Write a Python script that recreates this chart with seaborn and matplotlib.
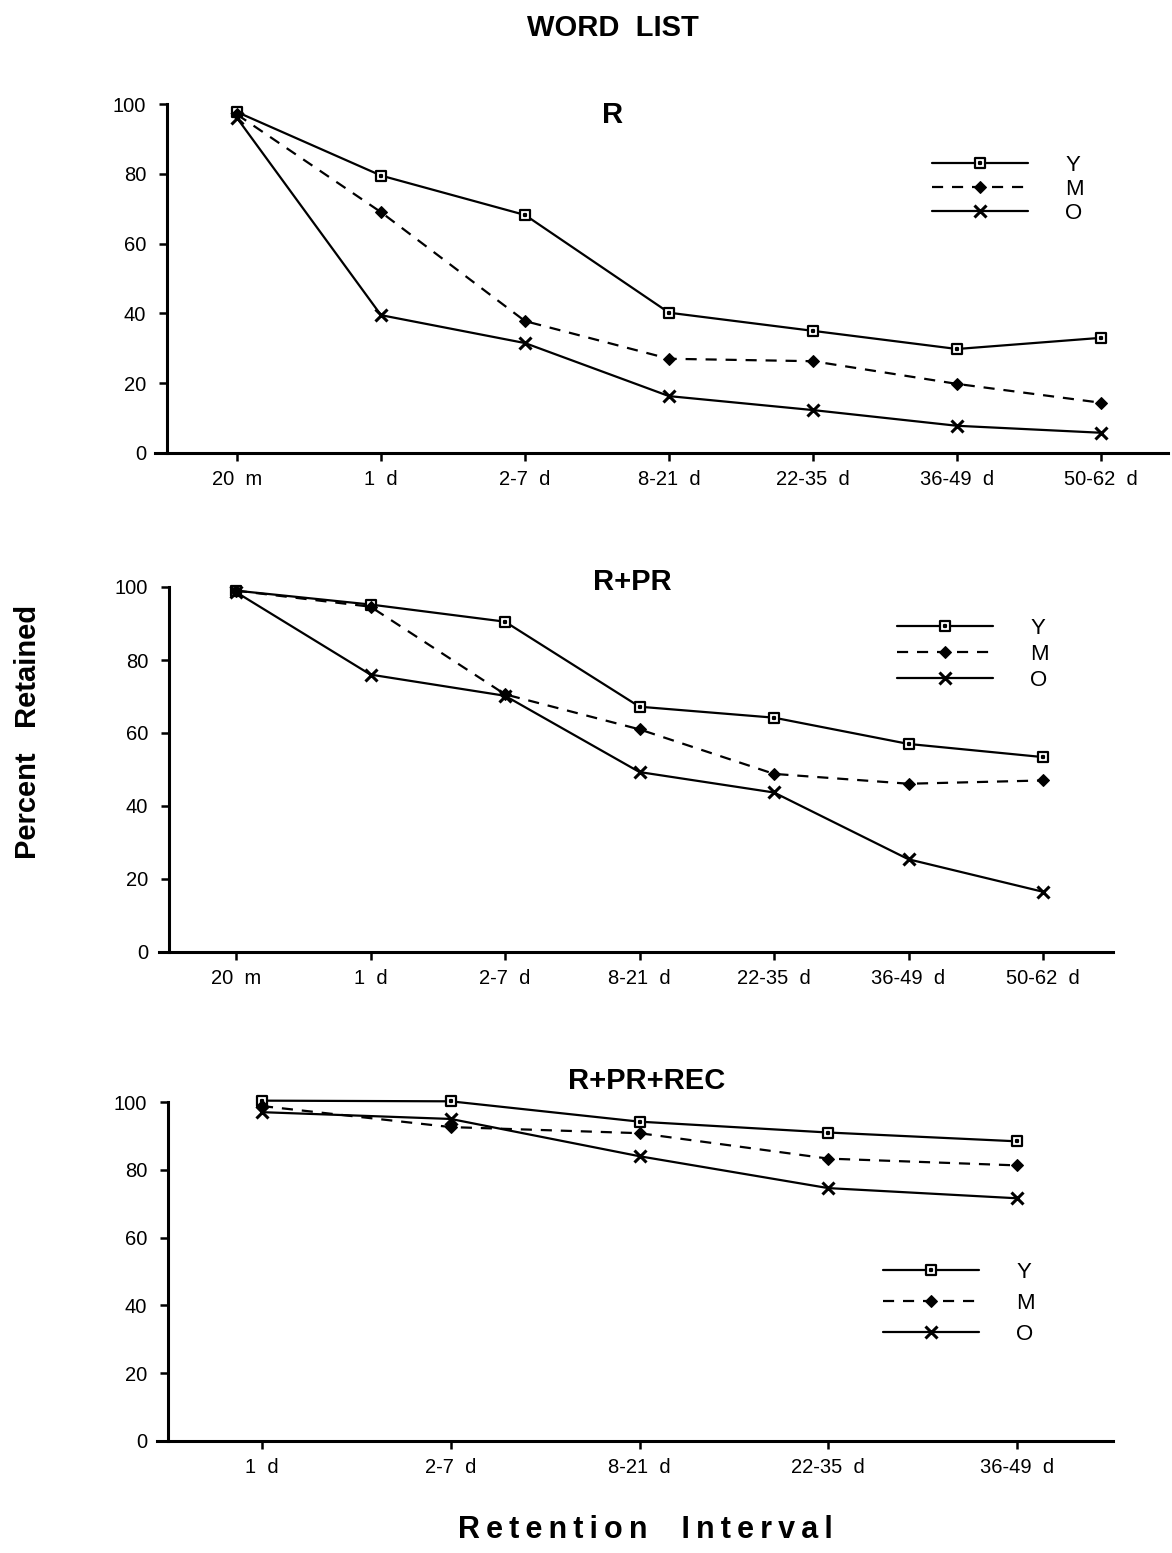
import numpy as np
import pandas as pd
import seaborn as sns
import matplotlib.pyplot as plt
from matplotlib.path import Path

sns.set_theme(style="ticks")
plt.rcParams['font.family'] = ['Liberation Sans', 'DejaVu Sans']
plt.rcParams['text.color'] = 'black'
plt.rcParams['xtick.color'] = 'black'
plt.rcParams['ytick.color'] = 'black'

# 数据
groups = ['Y', 'M', 'O']

labels_a = ['20  m', '1  d', '2-7  d', '8-21  d', '22-35  d', '36-49  d', '50-62  d']
labels_c = ['1  d', '2-7  d', '8-21  d', '22-35  d', '36-49  d']

r_y = [97.7, 79.5, 68.2, 40.2, 35.0, 29.8, 33.0]
r_m = [97.0, 69.0, 37.8, 27.0, 26.3, 19.8, 14.4]
r_o = [96.0, 39.5, 31.5, 16.3, 12.3, 7.8, 5.8]

rpr_y = [99.0, 95.2, 90.5, 67.2, 64.2, 57.0, 53.4]
rpr_m = [99.0, 94.6, 70.6, 61.0, 48.8, 46.1, 47.0]
rpr_o = [98.6, 76.0, 70.2, 49.3, 43.7, 25.4, 16.5]

rec_y = [100.4, 100.2, 94.2, 91.0, 88.4]
rec_m = [98.8, 92.6, 90.8, 83.3, 81.3]
rec_o = [97.0, 95.0, 84.0, 74.6, 71.6]

# 带点的方框标记
box_dot = Path([(-1, -1), (1, -1), (1, 1), (-1, 1), (-1, -1),
                (-0.12, -0.12), (0.12, -0.12), (0.12, 0.12), (-0.12, 0.12), (-0.12, -0.12)],
               [Path.MOVETO, Path.LINETO, Path.LINETO, Path.LINETO, Path.CLOSEPOLY,
                Path.MOVETO, Path.LINETO, Path.LINETO, Path.LINETO, Path.CLOSEPOLY])

styles = {
    'Y': dict(marker=box_dot, linestyle='-', markersize=7.5, markerfacecolor='white',
              markeredgecolor='black', markeredgewidth=1.6),
    'M': dict(marker='D', linestyle=(0, (5, 4)), markersize=6.5, markerfacecolor='black',
              markeredgecolor='black'),
    'O': dict(marker='x', linestyle='-', markersize=9, markeredgewidth=2.2,
              markeredgecolor='black'),
}

W, H = 1172, 1553
fig = plt.figure(figsize=(W / 100, H / 100), dpi=100)


def spaced(s):
    # 字母间加细空格
    return '\u2009'.join(s)


def add_panel(left, right, top, bottom, labels, series, first_tick, spacing, spine_px,
              title, title_x, title_y, leg_x, leg_y, leg_space):
    ax = fig.add_axes([left / W, 1 - bottom / H, (right - left) / W, (bottom - top) / H])
    x = np.arange(len(labels))
    df = pd.DataFrame({'x': np.tile(x, 3),
                       'val': np.concatenate(series),
                       'grp': np.repeat(groups, len(labels))})
    handles = []
    for g in groups:
        d = df[df.grp == g]
        sns.lineplot(data=d, x='x', y='val', ax=ax, color='black', linewidth=1.6,
                     clip_on=False, **styles[g])
        handles.append(ax.lines[-1])
    ax.set_xlim((left - first_tick) / spacing, (right - first_tick) / spacing)
    ax.set_ylim(0, 100)
    ax.spines['left'].set_position(('data', (spine_px - first_tick) / spacing))
    ax.spines['right'].set_visible(False)
    ax.spines['top'].set_visible(False)
    for s in ['left', 'bottom']:
        ax.spines[s].set_linewidth(2.2)
        ax.spines[s].set_color('black')
    ax.set_xticks(x)
    ax.set_xticklabels(labels)
    ax.set_yticks([0, 20, 40, 60, 80, 100])
    ax.tick_params(axis='both', direction='out', length=6, width=1.8, color='black',
                   labelsize=14.5, labelcolor='black')
    ax.tick_params(axis='y', pad=9)
    ax.tick_params(axis='x', pad=6)
    ax.set_xlabel('')
    ax.set_ylabel('')
    ax.set_facecolor('white')
    fig.text(title_x / W, 1 - title_y / H, title, ha='center', va='center',
             fontsize=21, fontweight='bold', color='black')
    ax.legend(handles, groups, loc='upper left', frameon=False,
              bbox_to_anchor=(leg_x / W, 1 - leg_y / H), bbox_transform=fig.transFigure,
              handlelength=4.3, handletextpad=1.7, labelspacing=leg_space,
              borderpad=0, borderaxespad=0, fontsize=16, labelcolor='black')
    return ax


add_panel(155, 1168, 104, 453, labels_a, [r_y, r_m, r_o], 237, 144, 167,
          'R', 613, 115, 932, 155, 0.14)
add_panel(159, 1113, 587, 952, labels_a, [rpr_y, rpr_m, rpr_o], 236, 134.5, 169,
          'R+PR', 632, 582, 897, 618, 0.22)
add_panel(157, 1113, 1102, 1441, labels_c, [rec_y, rec_m, rec_o], 262, 188.75, 168,
          'R+PR+REC', 647, 1081, 883, 1262, 0.45)

fig.text(613 / W, 1 - 28 / H, 'WORD  LIST', ha='center', va='center',
         fontsize=21, fontweight='bold', color='black')
fig.text(28 / W, 1 - 732 / H, 'Percent   Retained',
         ha='center', va='center', rotation=90, fontsize=21, fontweight='bold',
         color='black')
fig.text(645 / W, 1 - 1530 / H, spaced('Retention') + '    ' + spaced('Interval'),
         ha='center', va='center', fontsize=22, fontweight='bold', color='black',
         family=['Liberation Sans', 'DejaVu Sans'])

fig.savefig('out.png', dpi=100, facecolor='white')
